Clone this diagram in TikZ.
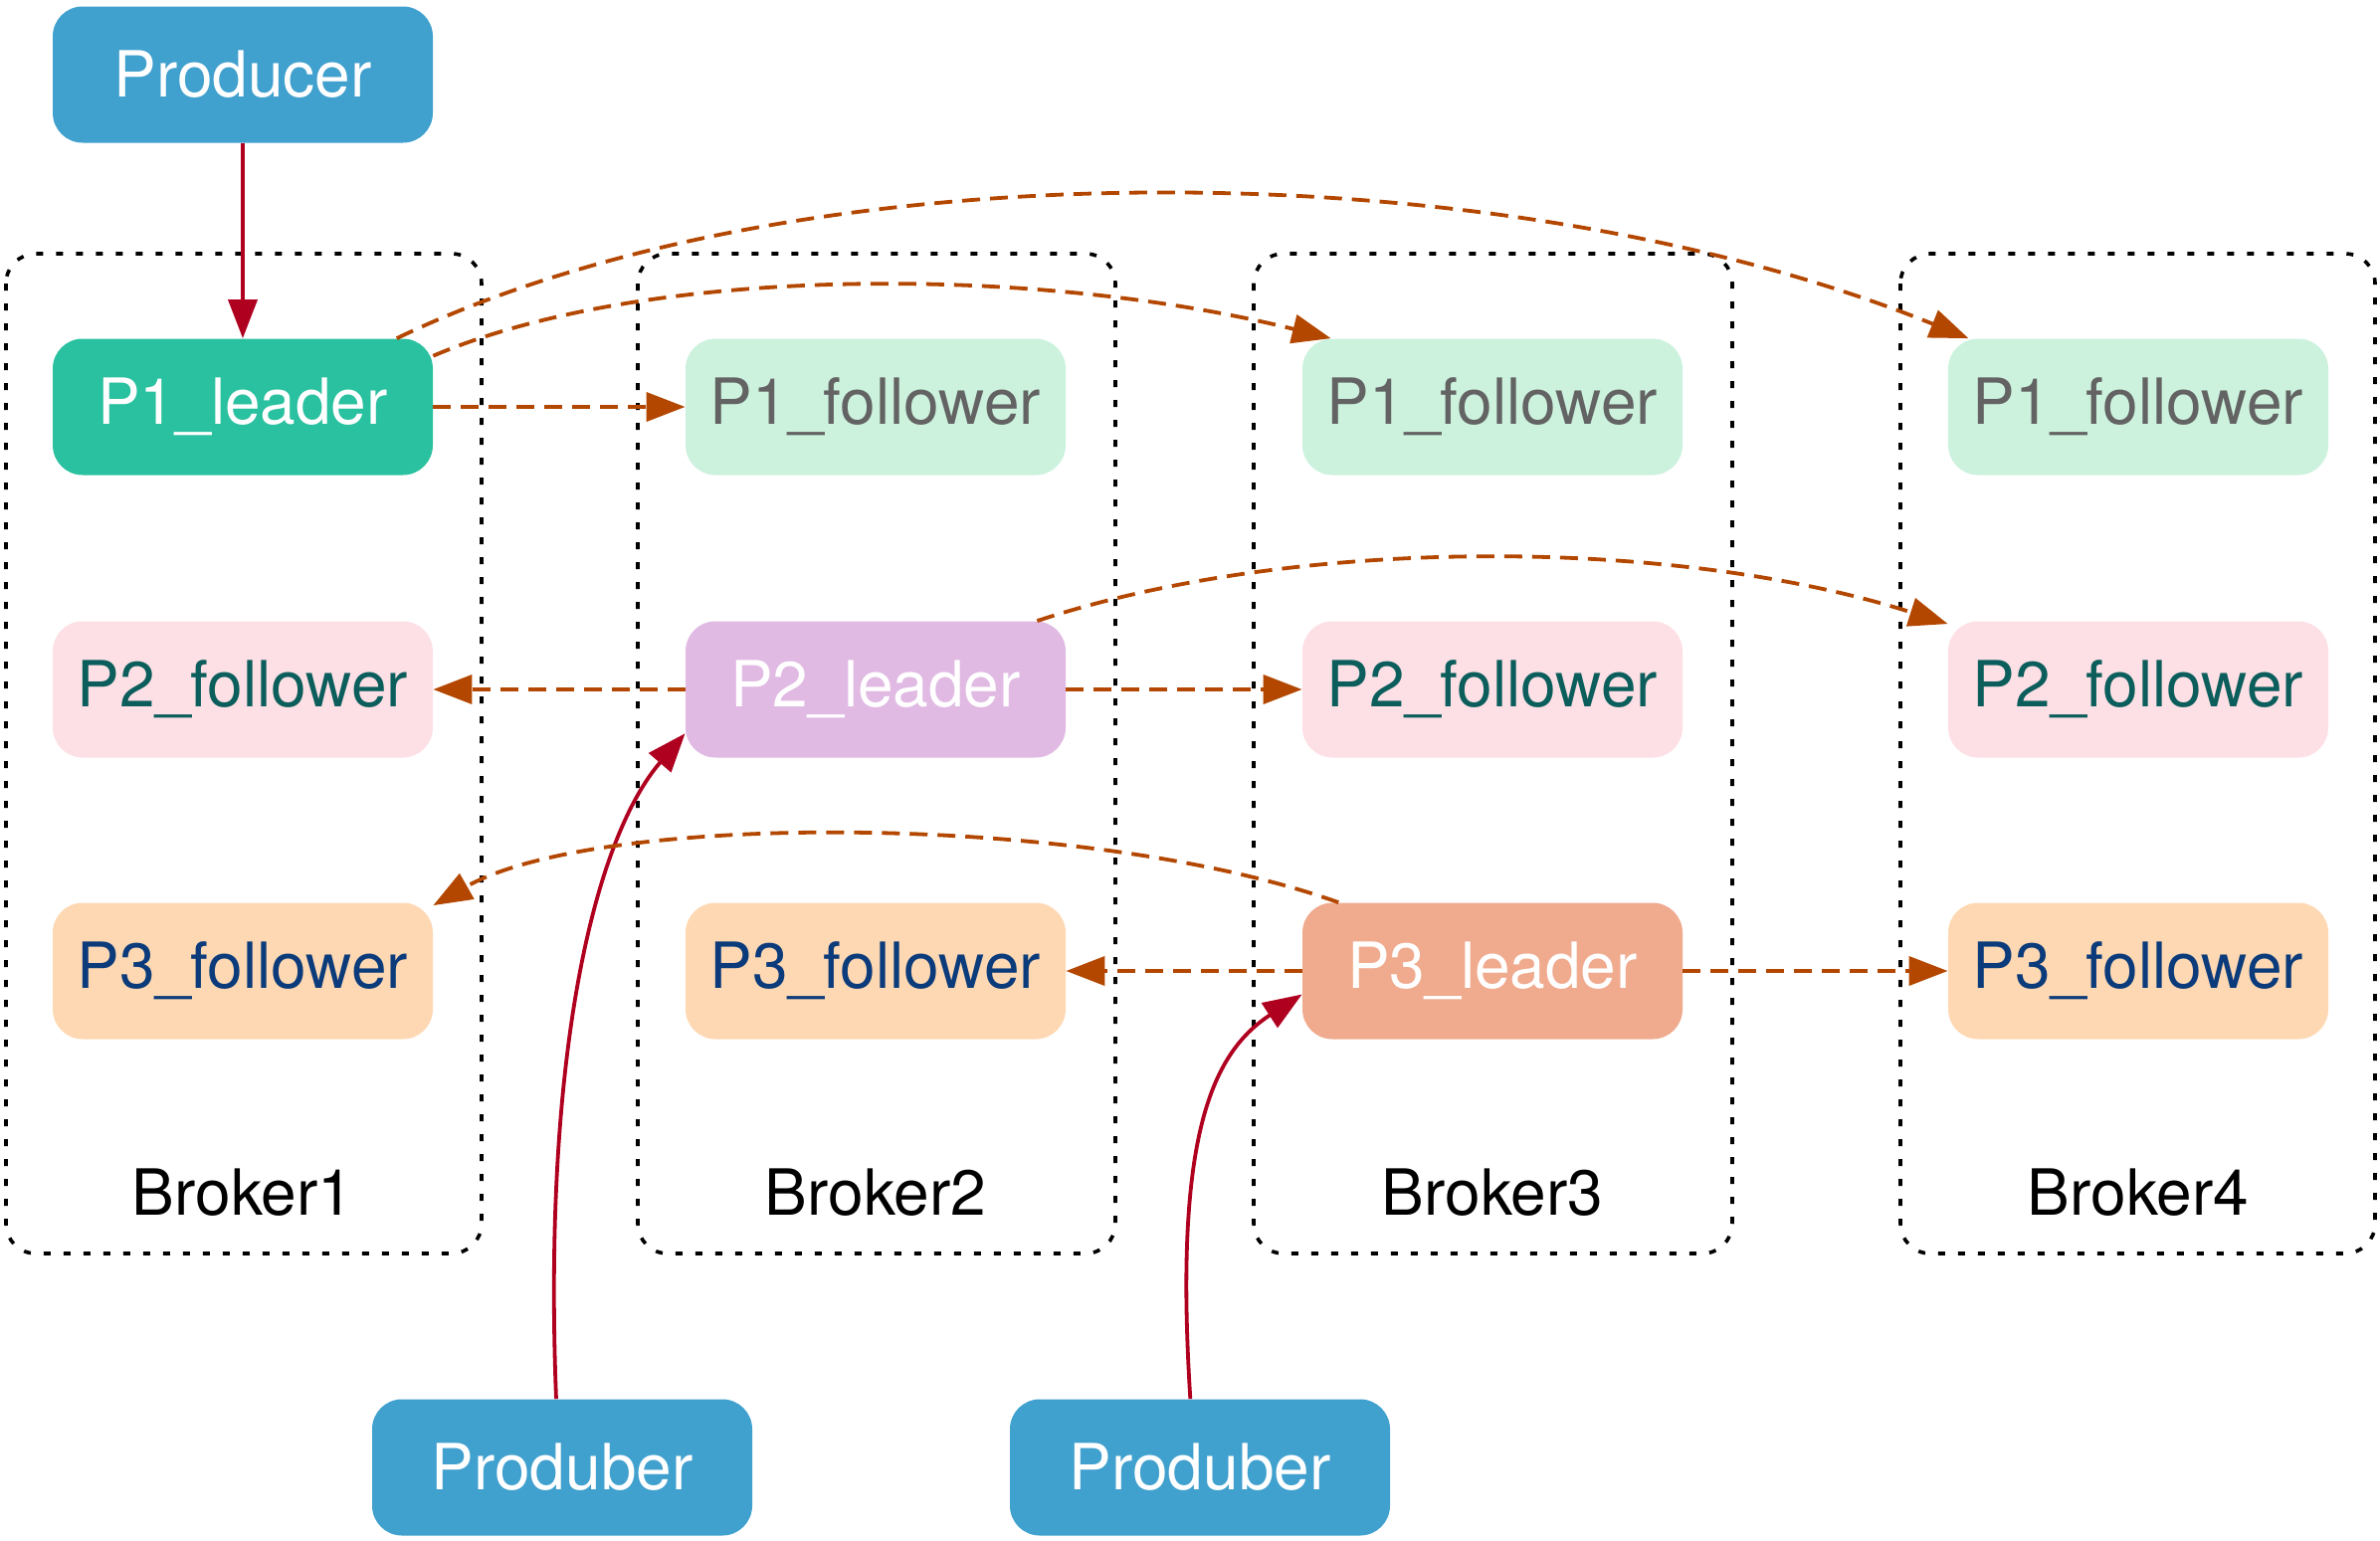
\documentclass[tikz,border=0pt]{standalone}
\usepackage{fontspec}
\setmainfont{TeX Gyre Heros}
\usetikzlibrary{arrows.meta}
\definecolor{prodblue}{HTML}{40A0CE}
\definecolor{leadone}{HTML}{29C19F}
\definecolor{follone}{HTML}{CCF2DE}
\definecolor{follonetext}{HTML}{636363}
\definecolor{leadtwo}{HTML}{E0BAE3}
\definecolor{folltwo}{HTML}{FDE0E5}
\definecolor{folltwotext}{HTML}{0B5E5C}
\definecolor{leadthree}{HTML}{F0AA8E}
\definecolor{follthree}{HTML}{FED8B3}
\definecolor{follthreetext}{HTML}{0B3B7A}
\definecolor{prodred}{HTML}{B00020}
\definecolor{repl}{HTML}{B34700}
\tikzset{
  x=0.5pt, y=-0.5pt,
  box/.style={rounded corners=15pt, minimum width=191pt, minimum height=68.5pt,
    inner sep=0pt, font=\fontsize{32}{38}\selectfont},
  prodbox/.style={box, fill=prodblue, text=white},
  lead1/.style={box, fill=leadone, text=white},
  foll1/.style={box, fill=follone, text=follonetext},
  lead2/.style={box, fill=leadtwo, text=white},
  foll2/.style={box, fill=folltwo, text=folltwotext},
  lead3/.style={box, fill=leadthree, text=white},
  foll3/.style={box, fill=follthree, text=follthreetext},
  cluster/.style={draw=black, line width=1.8pt, dash pattern=on 3.5pt off 6.5pt, rounded corners=15pt},
  blabel/.style={font=\fontsize{32}{38}\selectfont, text=black},
  prodarrow/.style={draw=prodred, line width=1.9pt, -{Triangle[length=19.5pt,width=14.5pt]}, fill=none},
  replarrow/.style={draw=repl, line width=1.9pt, dash pattern=on 9pt off 5pt, -{Triangle[length=19.5pt,width=14.5pt]}},
}
\begin{document}
\begin{tikzpicture}
\useasboundingbox (0,0) rectangle (2392,1548);
% clusters
\draw[cluster] (6,255) rectangle (484,1260);
\draw[cluster] (641,255) rectangle (1121,1260);
\draw[cluster] (1260,255) rectangle (1741,1260);
\draw[cluster] (1910,255) rectangle (2387,1260);
\node[blabel] (b1) at (244,1199) {Broker1};
\node[blabel] (b2) at (880,1199) {Broker2};
\node[blabel] (b3) at (1500,1199) {Broker3};
\node[blabel] (b4) at (2149,1199) {Broker4};
% nodes
\node[prodbox] (prod) at (244,75) {Producer};
\node[lead1] (p1l) at (244,409) {P1\_leader};
\node[foll1] (p1f2) at (880,409) {P1\_follower};
\node[foll1] (p1f3) at (1500,409) {P1\_follower};
\node[foll1] (p1f4) at (2149,409) {P1\_follower};
\node[foll2] (p2f1) at (244,693) {P2\_follower};
\node[lead2] (p2l) at (880,693) {P2\_leader};
\node[foll2] (p2f3) at (1500,693) {P2\_follower};
\node[foll2] (p2f4) at (2149,693) {P2\_follower};
\node[foll3] (p3f1) at (244,976) {P3\_follower};
\node[foll3] (p3f2) at (880,976) {P3\_follower};
\node[lead3] (p3l) at (1500,976) {P3\_leader};
\node[foll3] (p3f4) at (2149,976) {P3\_follower};
\node[prodbox] (pb1) at (565,1475) {Produber};
\node[prodbox] (pb2) at (1206,1475) {Produber};
% producer arrows
\draw[prodarrow] (prod.south) -- (p1l.north);
\draw[prodarrow] (pb1.95) .. controls (545,1050) and (600,840) .. (p2l.193);
\draw[prodarrow] (pb2.98) .. controls (1180,1150) and (1215,1060) .. (p3l.187);
% replication
\draw[replarrow] (p1l.east) -- (p1f2.west);
\draw[replarrow] (p1l.15) .. controls (650,266) and (1040,266) .. (p1f3.157);
\draw[replarrow] (p1l.24) .. controls (800,147) and (1500,147) .. (p1f4.158);
\draw[replarrow] (p2l.west) -- (p2f1.east);
\draw[replarrow] (p2l.east) -- (p2f3.west);
\draw[replarrow] (p2l.23) .. controls (1300,539) and (1680,539) .. (p2f4.161);
\draw[replarrow] (p3l.west) -- (p3f2.east);
\draw[replarrow] (p3l.east) -- (p3f4.west);
\draw[replarrow] (p3l.156) .. controls (1090,816) and (601,816) .. (p3f1.19);
\end{tikzpicture}
\end{document}
